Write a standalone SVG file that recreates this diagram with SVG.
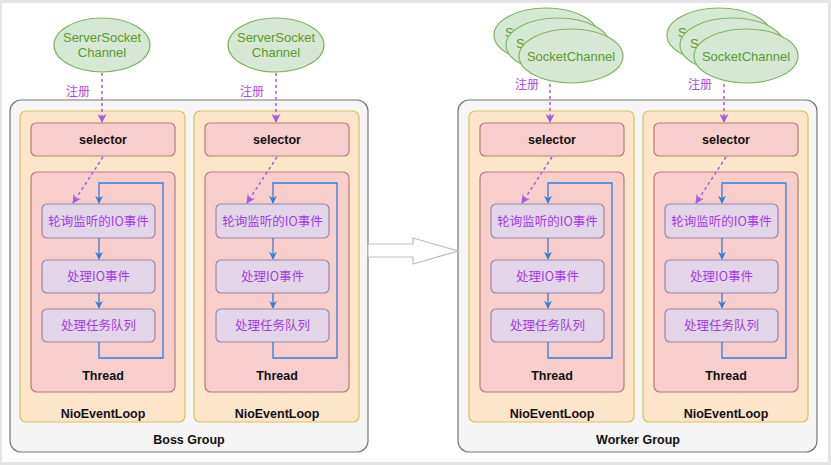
<svg xmlns="http://www.w3.org/2000/svg" width="831" height="465" viewBox="0 0 831 465">
<defs>
<style>
.grp{fill:#f5f5f5;stroke:#777;stroke-width:1.2}
.loop{fill:#fde5c9;stroke:#d9c160;stroke-width:1.2}
.red{fill:#f8cecc;stroke:#b87a74;stroke-width:1.2}
.pur{fill:#e1d5e7;stroke:#9a86a8;stroke-width:1.2}
.ell{fill:#d5e8d4;stroke:#82b366;stroke-width:1.2}
.t{font-family:"Liberation Sans",Arial,sans-serif;font-weight:bold;font-size:12.5px;fill:#111;text-anchor:middle}
.g{font-family:"Liberation Sans",Arial,sans-serif;font-size:13px;fill:#5c9a2e;text-anchor:middle}
.gs{font-family:"Liberation Sans",Arial,sans-serif;font-size:13px;fill:#5c9a2e;text-anchor:start}
.c{font-family:"Noto Sans CJK SC","Liberation Sans",sans-serif;font-size:12.5px;fill:#a23ee0;text-anchor:middle}
.reg{font-family:"Noto Sans CJK SC",sans-serif;font-size:12px;fill:#a64ce0;text-anchor:middle}
.blue{fill:none;stroke:#2f7fdb;stroke-width:1.3}
.dash{fill:none;stroke:#a55be6;stroke-width:1.5;stroke-dasharray:3 3}
</style>
<marker id="ab" viewBox="0 0 10 10" refX="9" refY="5" markerWidth="8" markerHeight="8" orient="auto" markerUnits="userSpaceOnUse"><path d="M0,0 L10,5 L0,10 L3,5 Z" fill="#2f7fdb"/></marker>
<marker id="ap" viewBox="0 0 10 10" refX="9" refY="5" markerWidth="9" markerHeight="9" orient="auto" markerUnits="userSpaceOnUse"><path d="M0,0 L10,5 L0,10 L3,5 Z" fill="#a55be6"/></marker>
<g id="loopTpl">
<rect class="loop" x="0" y="111" width="165" height="311" rx="6"/>
<rect class="red" x="11" y="123" width="144" height="33" rx="5"/>
<text class="t" x="83" y="144">selector</text>
<rect class="red" x="11" y="172" width="144" height="220" rx="6"/>
<rect class="pur" x="22" y="204" width="113" height="34" rx="5"/>
<text class="c" x="78.5" y="226">轮询监听的IO事件</text>
<rect class="pur" x="22" y="260" width="113" height="33" rx="5"/>
<text class="c" x="78.5" y="281">处理IO事件</text>
<rect class="pur" x="22" y="309" width="113" height="33" rx="5"/>
<text class="c" x="78.5" y="330">处理任务队列</text>
<path class="blue" d="M79,238 V259" marker-end="url(#ab)"/>
<path class="blue" d="M79,293 V308" marker-end="url(#ab)"/>
<path class="blue" d="M79,342 V358 H143 V183 H79 V203" marker-end="url(#ab)"/>
<path class="dash" d="M83,157 L53,203" marker-end="url(#ap)"/>
<text class="t" x="83" y="380">Thread</text>
<text class="t" x="83" y="418">NioEventLoop</text>
</g>
</defs>
<rect x="0" y="0" width="831" height="465" fill="#e4e4e4"/>
<rect x="2" y="3" width="826" height="459" fill="#ffffff"/>

<g id="boss-group">
<rect class="grp" x="10" y="100" width="358" height="352" rx="11"/>
<text class="t" x="189" y="444">Boss Group</text>
</g>
<g id="worker-group">
<rect class="grp" x="458" y="100" width="359" height="352" rx="11"/>
<text class="t" x="638" y="444">Worker Group</text>
</g>

<g id="nioeventloop-1"><use href="#loopTpl" x="20"/></g>
<g id="nioeventloop-2"><use href="#loopTpl" x="194"/></g>
<g id="nioeventloop-3"><use href="#loopTpl" x="469"/></g>
<g id="nioeventloop-4"><use href="#loopTpl" x="643"/></g>

<g id="serversocketchannel-1">
<ellipse class="ell" cx="102" cy="45" rx="48" ry="27"/>
<text class="g" x="102" y="42">ServerSocket</text>
<text class="g" x="102" y="57">Channel</text>
</g>
<g id="serversocketchannel-2">
<ellipse class="ell" cx="276" cy="45" rx="48" ry="27"/>
<text class="g" x="276" y="42">ServerSocket</text>
<text class="g" x="276" y="57">Channel</text>
</g>
<g id="socketchannel-1">
<ellipse class="ell" cx="546" cy="35" rx="52" ry="27"/>
<text class="gs" x="505" y="37">S</text>
<ellipse class="ell" cx="558" cy="45" rx="52" ry="27"/>
<text class="gs" x="516" y="48">S</text>
<ellipse class="ell" cx="571" cy="56" rx="52" ry="27"/>
<text class="g" x="571" y="61">SocketChannel</text>
</g>
<g id="socketchannel-2">
<ellipse class="ell" cx="719" cy="35" rx="52" ry="27"/>
<text class="gs" x="678" y="37">S</text>
<ellipse class="ell" cx="732" cy="45" rx="52" ry="27"/>
<text class="gs" x="690" y="48">S</text>
<ellipse class="ell" cx="746" cy="56" rx="52" ry="27"/>
<text class="g" x="746" y="61">SocketChannel</text>
</g>

<g id="connectors">
<path class="dash" d="M102,73 V122" marker-end="url(#ap)"/>
<text class="reg" x="78" y="96">注册</text>
<path class="dash" d="M276,73 V122" marker-end="url(#ap)"/>
<text class="reg" x="252" y="96">注册</text>
<path class="dash" d="M550,84 V122" marker-end="url(#ap)"/>
<text class="reg" x="527" y="89">注册</text>
<path class="dash" d="M724,84 V122" marker-end="url(#ap)"/>
<text class="reg" x="700" y="89">注册</text>
<polygon points="368,244 413,244 413,238 458,251 413,264 413,257 368,257" fill="#ffffff" stroke="#bdbdbd" stroke-width="1.2"/>
</g>
</svg>
